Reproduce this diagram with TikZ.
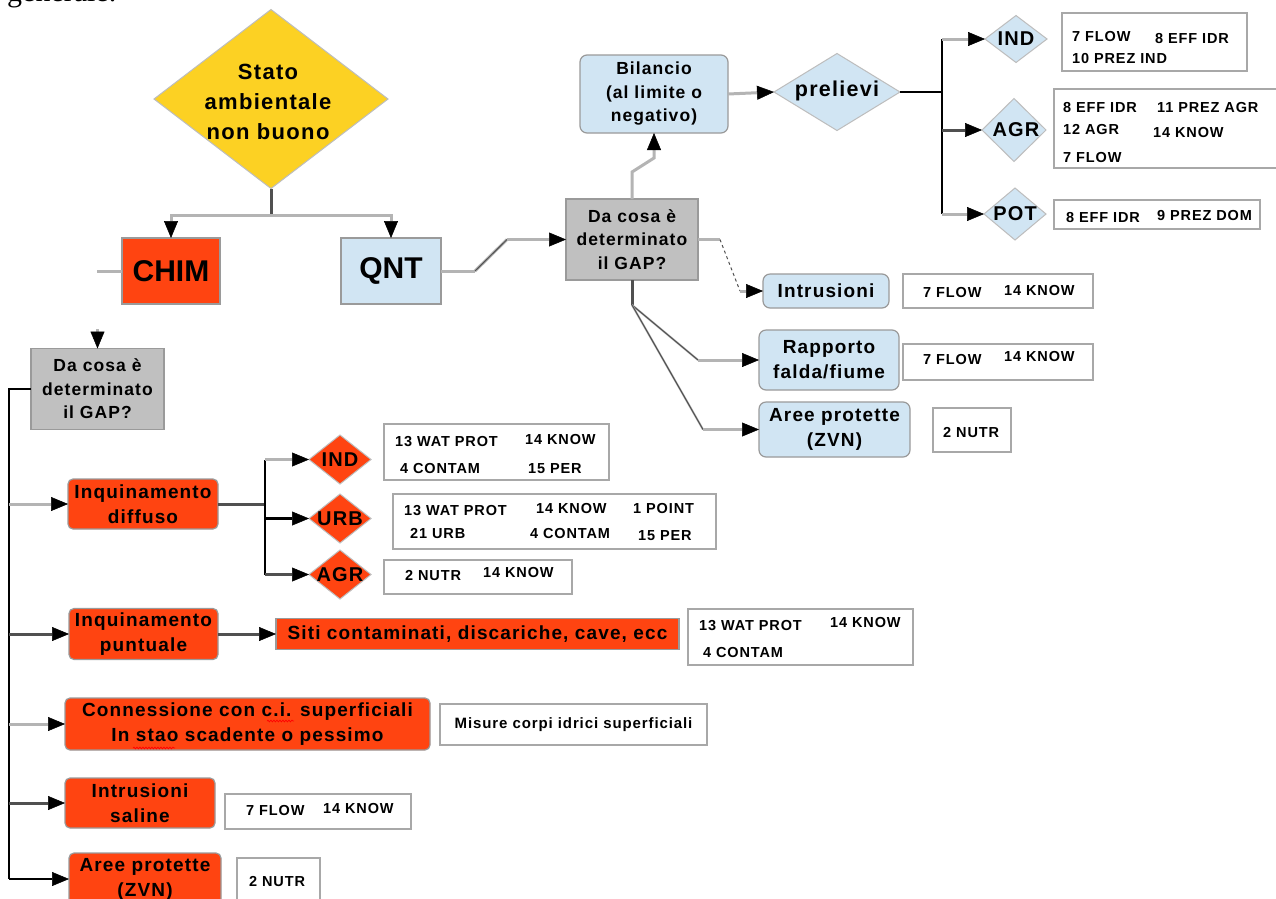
\documentclass[tikz,border=0pt]{standalone}
\usepackage{fontspec}
\setmainfont{Liberation Sans}
\newfontfamily\lsf[LetterSpace=6]{Liberation Sans}
\newfontfamily\serf{Liberation Serif}
\usetikzlibrary{shapes.geometric,arrows.meta,decorations.pathmorphing}
\definecolor{yel}{HTML}{FCD123}
\definecolor{orng}{HTML}{FF4411}
\definecolor{lblue}{HTML}{D1E5F3}
\definecolor{gbox}{HTML}{C0C0C0}
\definecolor{bordg}{HTML}{9A9A9A}
\definecolor{txbord}{HTML}{A8A8A8}
\definecolor{dbord}{HTML}{BDBDBD}
\definecolor{linel}{HTML}{B4B4B4}
\definecolor{lined}{HTML}{505050}
\tikzset{
 box/.style={rectangle, inner sep=0pt, outer sep=0pt, align=center, draw=bordg, line width=1.2pt},
 orb/.style={box, fill=orng, rounded corners=5pt},
 orsq/.style={box, fill=orng},
 blb/.style={box, fill=lblue, rounded corners=7pt},
 blsq/.style={box, fill=lblue},
 gyb/.style={box, fill=gbox},
 txb/.style={box, fill=white, draw=txbord, line width=1.8pt},
 dmd/.style={diamond, inner sep=0pt, outer sep=0pt, draw=dbord, line width=1pt},
 ttl/.style={font=\lsf\bfseries\fontsize{19pt}{25pt}\selectfont},
 qtl/.style={font=\lsf\bfseries\fontsize{17.5pt}{23.5pt}\selectfont},
 dtl/.style={font=\lsf\bfseries\fontsize{20pt}{20pt}\selectfont, inner sep=0pt},
 sm/.style={font=\lsf\bfseries\fontsize{14.5pt}{17pt}\selectfont, anchor=base west, inner sep=0pt},
 cl/.style={draw=linel, line width=3pt},
 cd/.style={draw=lined, line width=3pt},
 cb/.style={draw=black, line width=2.5pt},
 ct/.style={draw=lined, line width=1pt},
 arw/.style={-{Triangle[length=17pt,width=14pt,line width=0.5pt,color=black,fill=black]}},
}
\begin{document}
\begin{tikzpicture}[x=1pt,y=-1pt]
\useasboundingbox (0,0) rectangle (1276,898);
\clip (0,0) rectangle (1276,898);
\fill[white] (0,0) rectangle (1276,898);

\node[font=\serf\fontsize{30pt}{30pt}\selectfont, anchor=base west, inner sep=0pt] (gen) at (7,1) {generale.};

% ---------- top ----------
\node[dmd, fill=yel, minimum width=234pt, minimum height=179pt] (stato) at (271,99) {};
\node[font=\lsf\bfseries\fontsize{22pt}{30pt}\selectfont, align=center, inner sep=0pt] (statot) at (268,102) {Stato\\ambientale\\non buono};

\node[orsq, minimum width=98pt, minimum height=66pt, font=\bfseries\fontsize{30pt}{30pt}\selectfont] (chim) at (171,271) {CHIM};
\node[blsq, minimum width=100pt, minimum height=66pt, font=\bfseries\fontsize{30pt}{30pt}\selectfont] (qnt) at (391,271) {QNT};

\node[gyb, qtl, minimum width=132pt, minimum height=81pt] (gap1) at (632,239.5) {Da cosa è\\determinato\\il GAP?};
\node[blb, qtl, minimum width=148pt, minimum height=78pt] (bil) at (654,94) {Bilancio\\(al limite o\\negativo)};

\node[dmd, fill=lblue, minimum width=126pt, minimum height=77pt] (prel) at (837,92) {};
\node[font=\lsf\bfseries\fontsize{21.5pt}{22pt}\selectfont, inner sep=0pt] (prelt) at (837,91) {prelievi};

\node[dmd, fill=lblue, minimum width=62pt, minimum height=47pt] (indR) at (1016,39) {};
\node[dtl] (indRl) at (1016,39) {IND};
\node[dmd, fill=lblue, minimum width=64pt, minimum height=63pt] (agrR) at (1014,130) {};
\node[dtl] (agrRl) at (1016,130) {AGR};
\node[dmd, fill=lblue, minimum width=62pt, minimum height=52pt] (potR) at (1015,214) {};
\node[dtl] (potRl) at (1015,214) {POT};

\node[txb, minimum width=185pt, minimum height=58pt] (indRb) at (1154.5,42) {};
\node[sm] (r1) at (1072,41) {7 FLOW};
\node[sm] (r2) at (1155,43) {8 EFF IDR};
\node[sm] (r3) at (1072,63) {10 PREZ IND};

\node[txb, minimum width=228pt, minimum height=79pt] (agrRb) at (1168,128.5) {};
\node[sm] (r4) at (1063,112) {8 EFF IDR};
\node[sm] (r5) at (1157,112) {11 PREZ AGR};
\node[sm] (r6) at (1063,134) {12 AGR};
\node[sm] (r7) at (1153,137) {14 KNOW};
\node[sm] (r8) at (1063,162) {7 FLOW};

\node[txb, minimum width=206pt, minimum height=29pt] (potRb) at (1157,214.5) {};
\node[sm] (r9) at (1066,222) {8 EFF IDR};
\node[sm] (r10) at (1157,220) {9 PREZ DOM};

\node[blb, ttl, minimum width=126pt, minimum height=34pt] (intr) at (826,291) {Intrusioni};
\node[txb, minimum width=190pt, minimum height=34pt] (intrb) at (998,291) {};
\node[sm] (r11) at (923,297) {7 FLOW};
\node[sm] (r12) at (1004,295) {14 KNOW};

\node[blb, ttl, minimum width=140pt, minimum height=60pt] (rapp) at (829,360) {Rapporto\\falda/fiume};
\node[txb, minimum width=190pt, minimum height=36pt] (rappb) at (998,362) {};
\node[sm] (r13) at (923,364) {7 FLOW};
\node[sm] (r14) at (1004,361) {14 KNOW};

\node[blb, ttl, minimum width=151pt, minimum height=55pt] (aree1) at (834.5,429.5) {Aree protette\\(ZVN)};
\node[txb, minimum width=78pt, minimum height=44pt] (aree1b) at (972,430) {};
\node[sm] (r15) at (943,437) {2 NUTR};

% ---------- left ----------
\node[gyb, qtl, minimum width=133pt, minimum height=81pt] (gap2) at (97.5,389) {Da cosa è\\determinato\\il GAP?};

\node[orb, ttl, minimum width=150pt, minimum height=50pt] (inqd) at (143,504) {Inquinamento\\diffuso};
\node[dmd, fill=orng, minimum width=62pt, minimum height=49pt] (indL) at (340,459.5) {};
\node[dtl] (indLl) at (340,459.5) {IND};
\node[dmd, fill=orng, minimum width=62pt, minimum height=49pt] (urbL) at (340,518.5) {};
\node[dtl] (urbLl) at (340,518.5) {URB};
\node[dmd, fill=orng, minimum width=62pt, minimum height=49pt] (agrL) at (340,574.5) {};
\node[dtl] (agrLl) at (340,574.5) {AGR};

\node[txb, minimum width=225pt, minimum height=56pt] (indLb) at (496.5,452) {};
\node[sm] (l1) at (395,446) {13 WAT PROT};
\node[sm] (l2) at (525,444) {14 KNOW};
\node[sm] (l3) at (400,473) {4 CONTAM};
\node[sm] (l4) at (528,473) {15 PER};

\node[txb, minimum width=323pt, minimum height=55pt] (urbLb) at (554.5,521.5) {};
\node[sm] (l5) at (404,515) {13 WAT PROT};
\node[sm] (l6) at (536,513) {14 KNOW};
\node[sm] (l7) at (633,513) {1 POINT};
\node[sm] (l8) at (410,538) {21 URB};
\node[sm] (l9) at (530,538) {4 CONTAM};
\node[sm] (l10) at (638,540) {15 PER};

\node[txb, minimum width=188pt, minimum height=34pt] (agrLb) at (478,577) {};
\node[sm] (l11) at (405,580) {2 NUTR};
\node[sm] (l12) at (483,577) {14 KNOW};

\node[orb, ttl, minimum width=149pt, minimum height=51pt] (inqp) at (143.5,634) {Inquinamento\\puntuale};
\node[orsq, ttl, minimum width=403pt, minimum height=31pt] (siti) at (477.5,634) {Siti contaminati, discariche, cave, ecc};
\node[txb, minimum width=225pt, minimum height=56pt] (sitib) at (800.5,637) {};
\node[sm] (l13) at (699,630) {13 WAT PROT};
\node[sm] (l14) at (830,627) {14 KNOW};
\node[sm] (l15) at (703,657) {4 CONTAM};

\node[orb, ttl, minimum width=365pt, minimum height=52pt] (conn) at (247.5,724) {Connessione con c.i. superficiali\\In stao scadente o pessimo};
\node[txb, minimum width=267pt, minimum height=41pt, font=\lsf\bfseries\fontsize{15pt}{17pt}\selectfont] (connb) at (573.5,724.5) {Misure corpi idrici superficiali};

\node[orb, ttl, minimum width=150pt, minimum height=50pt] (intrs) at (140,803) {Intrusioni\\saline};
\node[txb, minimum width=186pt, minimum height=35pt] (intrsb) at (318,811.5) {};
\node[sm] (l16) at (246,815) {7 FLOW};
\node[sm] (l17) at (323,813) {14 KNOW};

\node[orb, ttl, minimum width=152pt, minimum height=52pt] (aree2) at (145,879) {Aree protette\\(ZVN)};
\node[txb, minimum width=83pt, minimum height=47pt] (aree2b) at (278.5,881.5) {};
\node[sm] (l18) at (249,886) {2 NUTR};

% spelling marks
\draw[red, line width=0.7pt, decorate, decoration={snake, amplitude=0.9pt, segment length=3pt}] (267,721) -- (294,721);
\draw[red, line width=0.7pt, decorate, decoration={snake, amplitude=0.9pt, segment length=3pt}] (133,748) -- (175,748);

% ---------- connectors ----------
\coordinate (sj) at (271,215);
\draw[cd] (stato.south) -- (sj);
\draw[cl, arw] (sj) -| (chim.north);
\draw[cl, arw] (sj) -| (qnt.north);

\coordinate (cs) at (97,271);
\draw[cl] (chim.west) -- (cs);
\coordinate (ga) at (97.5,329);
\draw[cl, arw] (ga) -- (gap2.north);

\coordinate (q1) at (475,271);
\coordinate (q2) at (507,239.5);
\draw[cl] (qnt.east) -- (q1);
\draw[cl] (q1) -- (q2);
\draw[ct] (q1) -- (q2);
\draw[cl, arw] (q2) -- (gap1.west);

\coordinate (b1) at (632,172);
\coordinate (b2) at (654,158);
\draw[cl, arw] (gap1.north) -- (b1) -- (b2) -- (bil.south);

\draw[cl, arw] (bil.east) -- (prel.west);

\coordinate (pj) at (942,92);
\draw[cb] (prel.east) -- (pj);
\draw[cb] (indR.west -| pj) -- (potR.west -| pj);
\draw[cl, arw] (indR.west -| pj) -- (indR.west);
\draw[cd, arw] (agrR.west -| pj) -- (agrR.west);
\draw[cl, arw] (potR.west -| pj) -- (potR.west);

\coordinate (i1) at (720,239.5);
\coordinate (i2) at (740,291);
\draw[cl] (gap1.east) -- (i1);
\draw[ct, dashed] (i1) -- (i2);
\draw[cl, arw] (i2) -- (intr.west);

\coordinate (gb) at (632,305);
\coordinate (g1) at (698,360);
\coordinate (g2) at (703,429.5);
\draw[cd] (gap1.south) -- (gb);
\draw[cl, line width=2pt] (gb) -- (g1);
\draw[ct] (gb) -- (g1);
\draw[cl, arw] (g1) -- (rapp.west);
\draw[cl, line width=2pt] (gb) -- (g2);
\draw[ct] (gb) -- (g2);
\draw[cl, arw] (g2) -- (aree1.west);

% left spine
\coordinate (lj) at (9,389);
\draw[cb] (gap2.west) -- (lj) -- (aree2.west -| lj);
\draw[cl, arw] (inqd.west -| lj) -- (inqd.west);
\draw[cd, arw] (inqp.west -| lj) -- (inqp.west);
\draw[cl, arw] (conn.west -| lj) -- (conn.west);
\draw[cd, arw] (intrs.west -| lj) -- (intrs.west);
\draw[cb, arw] (aree2.west -| lj) -- (aree2.west);

\coordinate (dj) at (265,504);
\draw[cd] (inqd.east) -- (dj);
\draw[cb] (indL.west -| dj) -- (agrL.west -| dj);
\draw[cl, arw] (indL.west -| dj) -- (indL.west);
\draw[cb, arw] (urbL.west -| dj) -- (urbL.west);
\draw[cd, arw] (agrL.west -| dj) -- (agrL.west);

\draw[cd, arw] (inqp.east) -- (siti.west);
\end{tikzpicture}
\end{document}
